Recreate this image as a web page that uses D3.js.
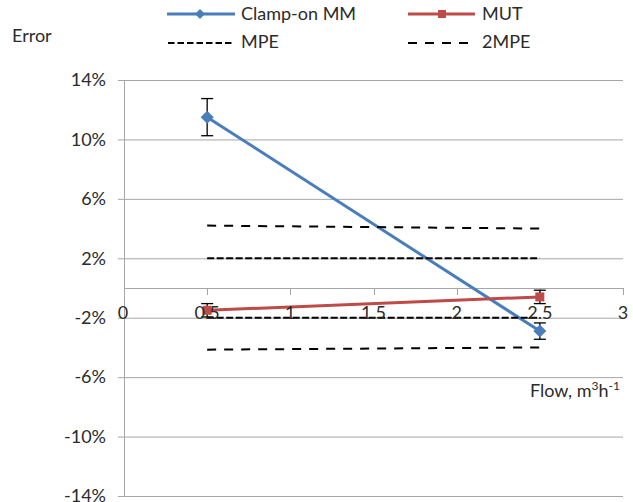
<!DOCTYPE html>
<html>
<head>
<meta charset="utf-8">
<script src="https://cdn.jsdelivr.net/npm/d3@7"></script>
<style>
  html, body { margin: 0; padding: 0; background: #fff; }
  svg { display: block; font-family: Lato, "Open Sans", sans-serif; }
</style>
</head>
<body>
<svg id="chart" width="633" height="502"></svg>
<script>
// ---- data ----
const flows = [0.5, 2.5];
const clampOn = [11.5, -2.9];
const clampOnErr = [1.25, 0.55];
const mut = [-1.5, -0.6];
const mutErr = [0.45, 0.45];
const mpeUpper = [2.0, 2.0];
const mpeLower = [-2.0, -2.0];
const twoMpeUpper = [4.2, 4.0];
const twoMpeLower = [-4.15, -4.0];
const yTicks = [-14, -10, -6, -2, 2, 6, 10, 14];
const xTicks = [0, 0.5, 1, 1.5, 2, 2.5, 3];
const legendItems = ["Clamp-on MM", "MUT", "MPE", "2MPE"];

// ---- layout ----
const svg = d3.select("#chart");
const x = d3.scaleLinear().domain([0, 3]).range([124, 623]);
const y = d3.scaleLinear().domain([-14, 14]).range([496, 80]);
const blue = "#4A7EBB", red = "#BE4B48", grid = "#a6a6a6", txt = "#2b2b2b";
const fs = 18;

// gridlines
svg.append("g").selectAll("line").data(yTicks).join("line")
  .attr("x1", x(0) - 6).attr("x2", x(3))
  .attr("y1", d => y(d) + 0.5).attr("y2", d => y(d) + 0.5)
  .attr("stroke", grid).attr("stroke-width", 1);

// y axis line
svg.append("line").attr("x1", x(0) + 0.5).attr("x2", x(0) + 0.5)
  .attr("y1", y(14)).attr("y2", y(-14)).attr("stroke", grid);

// x axis at zero
svg.append("line").attr("x1", x(0)).attr("x2", x(3))
  .attr("y1", y(0) + 0.5).attr("y2", y(0) + 0.5).attr("stroke", grid);
svg.append("g").selectAll("line").data(xTicks.slice(1)).join("line")
  .attr("x1", d => Math.round(x(d)) + 0.5).attr("x2", d => Math.round(x(d)) + 0.5)
  .attr("y1", y(0)).attr("y2", y(0) + 7).attr("stroke", grid);

// y labels
svg.append("g").selectAll("text").data(yTicks).join("text")
  .attr("x", 106).attr("y", d => y(d)).attr("dy", "0.35em")
  .attr("text-anchor", "end").attr("font-size", fs).attr("fill", txt)
  .text(d => d + "%");

const line = d3.line().x(d => x(d[0])).y(d => y(d[1]));
const pts = arr => flows.map((f, i) => [f, arr[i]]);

// Clamp-on series
svg.append("path").attr("d", line(pts(clampOn))).attr("fill", "none")
  .attr("stroke", blue).attr("stroke-width", 3);
// MUT series
svg.append("path").attr("d", line(pts(mut))).attr("fill", "none")
  .attr("stroke", red).attr("stroke-width", 3);

// error bars
function errBars(vals, errs) {
  const g = svg.append("g").attr("stroke", "#000").attr("stroke-width", 1.3);
  flows.forEach((f, i) => {
    const cx = x(f), y1 = y(vals[i] + errs[i]), y2 = y(vals[i] - errs[i]);
    g.append("line").attr("x1", cx).attr("x2", cx).attr("y1", y1).attr("y2", y2);
    g.append("line").attr("x1", cx - 6).attr("x2", cx + 6).attr("y1", y1).attr("y2", y1);
    g.append("line").attr("x1", cx - 6).attr("x2", cx + 6).attr("y1", y2).attr("y2", y2);
  });
}
errBars(clampOn, clampOnErr);
errBars(mut, mutErr);

// markers
const diamond = (cx, cy, r) => `M${cx},${cy - r}L${cx + r},${cy}L${cx},${cy + r}L${cx - r},${cy}Z`;
svg.append("g").selectAll("path").data(pts(clampOn)).join("path")
  .attr("d", d => diamond(x(d[0]), y(d[1]), 6.5)).attr("fill", blue);
svg.append("g").selectAll("rect").data(pts(mut)).join("rect")
  .attr("x", d => x(d[0]) - 4.5).attr("y", d => y(d[1]) - 4.5)
  .attr("width", 9).attr("height", 9).attr("fill", red);

// MPE lines
[mpeUpper, mpeLower].forEach(arr => {
  svg.append("path").attr("d", line(pts(arr))).attr("fill", "none")
    .attr("stroke", "#000").attr("stroke-width", 2).attr("stroke-dasharray", "7,2.5");
});
[twoMpeUpper, twoMpeLower].forEach(arr => {
  svg.append("path").attr("d", line(pts(arr))).attr("fill", "none")
    .attr("stroke", "#000").attr("stroke-width", 2).attr("stroke-dasharray", "9,8");
});

// x labels
svg.append("g").selectAll("text").data(xTicks).join("text")
  .attr("x", d => x(d) - (d === 0 ? 1 : 0)).attr("y", 313).attr("dy", "0.35em")
  .attr("text-anchor", "middle")
  .attr("font-size", fs).attr("fill", txt).text(d => d);

// axis titles
svg.append("text").attr("x", 12).attr("y", 42).attr("font-size", fs).attr("fill", txt).text("Error");
const xt = svg.append("text").attr("x", 620).attr("y", 397).attr("text-anchor", "end")
  .attr("font-size", fs).attr("fill", txt);
xt.append("tspan").text("Flow, m");
xt.append("tspan").attr("font-size", 12).attr("dy", -7).text("3");
xt.append("tspan").attr("dy", 7).text("h");
xt.append("tspan").attr("font-size", 12).attr("dy", -7).text("-1");

// legend
const lg = svg.append("g");
// Clamp-on
lg.append("line").attr("x1", 167).attr("x2", 235).attr("y1", 14).attr("y2", 14)
  .attr("stroke", blue).attr("stroke-width", 3);
lg.append("path").attr("d", diamond(200, 14, 5)).attr("fill", blue);
lg.append("text").attr("x", 241).attr("y", 20).attr("font-size", fs).attr("fill", txt).text(legendItems[0]);
// MUT
lg.append("line").attr("x1", 408).attr("x2", 475).attr("y1", 14).attr("y2", 14)
  .attr("stroke", red).attr("stroke-width", 3);
lg.append("rect").attr("x", 438).attr("y", 10).attr("width", 8).attr("height", 8).attr("fill", red);
lg.append("text").attr("x", 482).attr("y", 20).attr("font-size", fs).attr("fill", txt).text(legendItems[1]);
// MPE
lg.append("line").attr("x1", 168).attr("x2", 234).attr("y1", 43).attr("y2", 43)
  .attr("stroke", "#000").attr("stroke-width", 2).attr("stroke-dasharray", "6.5,3");
lg.append("text").attr("x", 241).attr("y", 48).attr("font-size", fs).attr("fill", txt).text(legendItems[2]);
// 2MPE
lg.append("line").attr("x1", 408).attr("x2", 468).attr("y1", 43).attr("y2", 43)
  .attr("stroke", "#000").attr("stroke-width", 2).attr("stroke-dasharray", "9,8");
lg.append("text").attr("x", 482).attr("y", 48).attr("font-size", fs).attr("fill", txt).text(legendItems[3]);
</script>
</body>
</html>
